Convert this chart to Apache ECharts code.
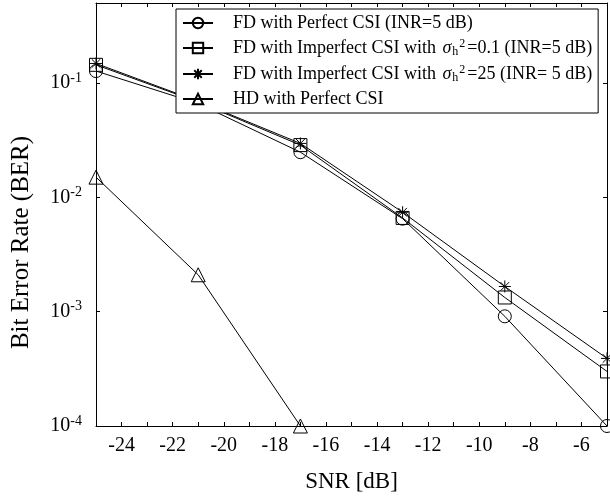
<!DOCTYPE html>
<html>
<head>
<meta charset="utf-8">
<script src="https://cdn.jsdelivr.net/npm/echarts@6/dist/echarts.min.js"></script>
<style>html,body{margin:0;padding:0;background:#fff}#c{width:610px;height:502px}</style>
</head>
<body>
<div id="c"></div>
<script>
var snr = [-25, -21, -17, -13, -9, -5];
var snrHD = [-25, -21, -17];
var fdPerfect = [0.127, 0.066, 0.0248, 0.0065, 0.00091, 0.0001];
var fdImp01 = [0.144, 0.068, 0.0286, 0.0066, 0.00133, 0.0003];
var fdImp25 = [0.148, 0.069, 0.0296, 0.0074, 0.00166, 0.00039];
var hdPerfect = [0.015, 0.0021, 0.0001];
var seriesNames = [
  'FD with Perfect CSI (INR=5 dB)',
  'FD with Imperfect CSI with σh2=0.1 (INR=5 dB)',
  'FD with Imperfect CSI with σh2=25 (INR= 5 dB)',
  'HD with Perfect CSI'
];
var legendRich = [
  '{g|}FD with Perfect CSI (INR=5 dB)',
  '{g|}FD with Imperfect CSI with {i|σ}{sub|h}{sup|2}=0.1 (INR=5 dB)',
  '{g|}FD with Imperfect CSI with {i|σ}{sub|h}{sup|2}=25 (INR= 5 dB)',
  '{g|}HD with Perfect CSI'
];

var FONT = 'Liberation Serif';
function pairs(xs, ys){ return xs.map(function(x,i){ return [x, ys[i]]; }); }
var star = 'path://M0,-1L0,1M-1,0L1,0M-0.72,-0.72L0.72,0.72M-0.72,0.72L0.72,-0.72';

function mk(name, data, symbol, size){
  return {
    name: name, type: 'line', data: data, symbol: symbol, symbolSize: size,
    showAllSymbol: true, clip: false,
    lineStyle: {color: '#000', width: 1},
    itemStyle: {color: 'rgba(255,255,255,0)', borderColor: '#000', borderWidth: 1},
    emphasis: {disabled: true}
  };
}

var chart = echarts.init(document.getElementById('c'), null, {renderer: 'canvas'});
var axisCommon = {
  axisLine: {show: true, onZero: false, lineStyle: {color: '#000', width: 1}},
  splitLine: {show: false}
};
chart.setOption({
  animation: false,
  backgroundColor: '#fff',
  grid: {left: 96, right: 3, top: 3, bottom: 76, containLabel: false},
  legend: {
    orient: 'vertical', left: 176, top: 9,
    padding: [5, 6, 5, 6],
    itemWidth: 30, itemHeight: 13, itemGap: 6,
    backgroundColor: '#fff', borderColor: '#000', borderWidth: 1,
    data: seriesNames,
    formatter: function(n){ return legendRich[seriesNames.indexOf(n)]; },
    textStyle: {
      fontFamily: FONT, fontSize: 18, color: '#000',
      rich: {
        g: {width: 15},
        i: {fontFamily: FONT, fontSize: 18, fontStyle: 'italic', color: '#000', padding: [0, 1, 0, 2]},
        sub: {fontFamily: FONT, fontSize: 12, color: '#000', verticalAlign: 'bottom', padding: [6, 1, 0, 0]},
        sup: {fontFamily: FONT, fontSize: 12, color: '#000', verticalAlign: 'top', padding: [0, 2, 8, 0]}
      }
    },
    selectedMode: false
  },
  xAxis: [
    Object.assign({}, axisCommon, {
      type: 'value', min: -25, max: -5, interval: 1, position: 'bottom',
      name: 'SNR [dB]', nameLocation: 'middle', nameGap: 44,
      nameTextStyle: {fontFamily: FONT, fontSize: 23, color: '#000'},
      axisTick: {show: true, inside: true, length: 4, lineStyle: {color: '#000'}},
      axisLabel: {
        fontFamily: FONT, fontSize: 20, color: '#000', margin: 10,
        formatter: function(v){ return (v % 2 === 0) ? String(v) : ''; }
      }
    }),
    Object.assign({}, axisCommon, {
      type: 'value', min: -25, max: -5, interval: 1, position: 'top',
      axisTick: {show: true, inside: true, length: 4, lineStyle: {color: '#000'}},
      axisLabel: {show: false}
    })
  ],
  yAxis: [
    Object.assign({}, axisCommon, {
      type: 'log', logBase: 10, min: 0.0001, max: 0.5, position: 'left',
      name: 'Bit Error Rate (BER)', nameLocation: 'middle', nameGap: 62,
      nameTextStyle: {fontFamily: FONT, fontSize: 25, color: '#000', padding: [0, 56, 0, 0]},
      axisTick: {show: true, inside: true, length: 4, lineStyle: {color: '#000'}},
      minorTick: {show: false},
      axisLabel: {
        fontFamily: FONT, fontSize: 20, color: '#000', margin: 14,
        formatter: function(v){
          var e = Math.round(Math.log10(v));
          if (Math.abs(Math.log10(v) - e) > 1e-6) return '';
          return '{b|10}{s|' + e + '}';
        },
        rich: {
          b: {fontFamily: FONT, fontSize: 20, color: '#000'},
          s: {fontFamily: FONT, fontSize: 14, color: '#000', verticalAlign: 'top', padding: [0, 0, 10, 0]}
        }
      }
    }),
    Object.assign({}, axisCommon, {
      type: 'log', logBase: 10, min: 0.0001, max: 0.5, position: 'right',
      axisTick: {show: true, inside: true, length: 4, lineStyle: {color: '#000'}},
      axisLabel: {show: false}
    })
  ],
  series: [
    mk(seriesNames[0], pairs(snr, fdPerfect), 'circle', 13),
    mk(seriesNames[1], pairs(snr, fdImp01), 'rect', 13),
    mk(seriesNames[2], pairs(snr, fdImp25), star, 12),
    mk(seriesNames[3], pairs(snrHD, hdPerfect), 'triangle', 14)
  ]
});
</script>
</body>
</html>
